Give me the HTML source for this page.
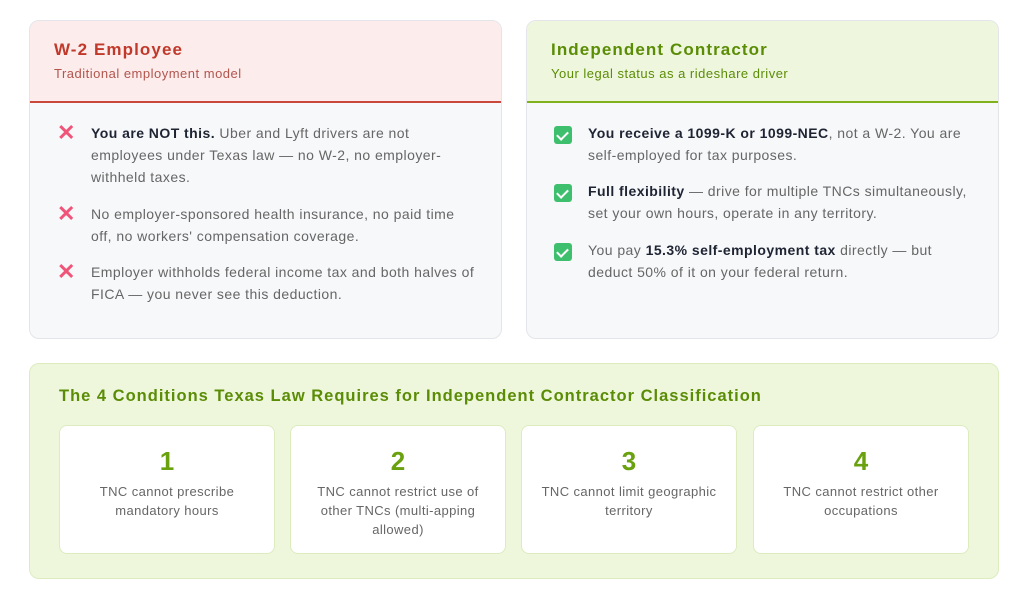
<!DOCTYPE html>
<html><head><style>
*{margin:0;padding:0;box-sizing:border-box}
body{width:1024px;height:608px;background:#fff;font-family:"Liberation Sans",sans-serif;position:relative;overflow:hidden}
.card{position:absolute;top:20px;width:473px;height:319px;border:1px solid #e3e5ea;border-radius:10px;background:#f7f8fa;overflow:hidden}
.hd{height:82px;padding:19px 24px 0}
.hd h2{font-size:17px;font-weight:bold;letter-spacing:1.1px}
.hd p{font-size:13px;margin-top:6px;letter-spacing:.5px}
.red .hd{background:#fdecec;border-bottom:2px solid #c9473b}
.red h2{color:#c0392b}.red .hd p{color:#b2554d}
.grn .hd{background:#eef7dd;border-bottom:2px solid #7fb21c}
.grn h2{color:#5b8c06}.grn .hd p{color:#5b8c06}
.it{position:absolute;left:61px;right:18px;font-size:14px;line-height:22px;color:#666;letter-spacing:.45px}
.it b{color:#1f2433}
.ic{position:absolute;left:-34px;top:2px;width:20px;height:20px}
.x{color:#f05579;font-size:22px;font-weight:bold;line-height:18px;letter-spacing:0}
.ck{background:#3ebf6d;border-radius:3px;top:4px;width:18px;height:18px}
.ck:after{content:"";position:absolute;left:5px;top:3px;width:5px;height:9px;border:solid #fff;border-width:0 2px 2px 0;transform:rotate(45deg)}
.bot{position:absolute;left:29px;top:363px;width:970px;height:216px;background:#eef7dc;border:1px solid #dcecbf;border-radius:10px}
.bot h3{position:absolute;left:29px;top:23px;font-size:16.5px;color:#5b8c06;font-weight:bold;letter-spacing:1px;white-space:nowrap}
.bx{position:absolute;top:61px;width:216px;height:129px;background:#fff;border:1px solid #dcecbf;border-radius:8px;text-align:center}
.bx .n{font-size:26px;font-weight:900;color:#6aa10f;margin-top:21px;line-height:29px}
.bx p{font-size:13px;line-height:19px;color:#666;margin:6px 18px 0;letter-spacing:.4px}
</style></head><body>
<div class="card red" style="left:29px">
 <div class="hd"><h2>W-2 Employee</h2><p>Traditional employment model</p></div>
 <div class="it" style="top:101px"><span class="ic x">✕</span><b>You are NOT this.</b> Uber and Lyft drivers are not employees under Texas law — no W-2, no employer-withheld taxes.</div>
 <div class="it" style="top:182px"><span class="ic x">✕</span>No employer-sponsored health insurance, no paid time<br>off, no workers' compensation coverage.</div>
 <div class="it" style="top:240px"><span class="ic x">✕</span>Employer withholds federal income tax and both halves of FICA — you never see this deduction.</div>
</div>
<div class="card grn" style="left:526px">
 <div class="hd"><h2>Independent Contractor</h2><p>Your legal status as a rideshare driver</p></div>
 <div class="it" style="top:101px"><span class="ic ck"></span><b>You receive a 1099-K or 1099-NEC</b>, not a W-2. You are self-employed for tax purposes.</div>
 <div class="it" style="top:159px"><span class="ic ck"></span><b>Full flexibility</b> — drive for multiple TNCs simultaneously, set your own hours, operate in any territory.</div>
 <div class="it" style="top:218px"><span class="ic ck"></span>You pay <b>15.3% self-employment tax</b> directly — but deduct 50% of it on your federal return.</div>
</div>
<div class="bot">
 <h3>The 4 Conditions Texas Law Requires for Independent Contractor Classification</h3>
 <div class="bx" style="left:29px"><div class="n">1</div><p>TNC cannot prescribe mandatory hours</p></div>
 <div class="bx" style="left:260px"><div class="n">2</div><p>TNC cannot restrict use of other TNCs (multi-apping allowed)</p></div>
 <div class="bx" style="left:491px"><div class="n">3</div><p>TNC cannot limit geographic territory</p></div>
 <div class="bx" style="left:723px"><div class="n">4</div><p>TNC cannot restrict other occupations</p></div>
</div>
</body></html>
